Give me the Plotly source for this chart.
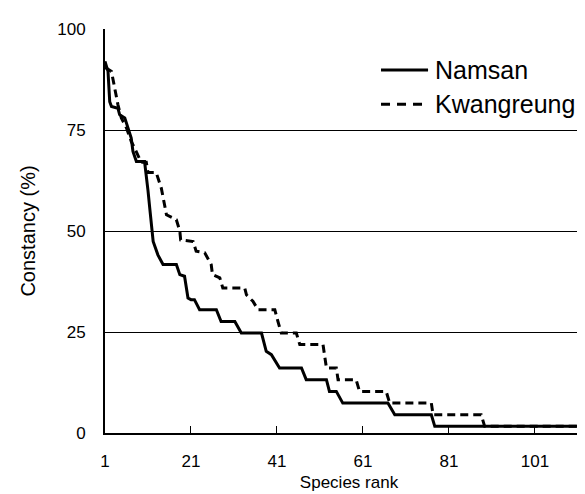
import plotly.graph_objects as go

# Namsan (solid) - species rank vs constancy (%)
namsan_rank = [1, 1.7, 2.1, 2.5, 4, 4.4, 5.6, 6.3, 7.1, 7.5, 8.3, 10.2, 10.6, 11, 11.4, 12.2, 13.3,
               14.5, 17.6, 18.4, 19.5, 20.3, 21, 21.8, 23, 26.9, 28, 31.2, 32.7, 37.4, 38.5, 39.7,
               41.6, 46.7, 47.8, 52.5, 53.2, 54.8, 56.3, 66.8, 68.4, 76.9, 77.7, 116]
namsan_const = [92, 89.5, 82, 80.8, 80.4, 78.8, 78, 75.5, 73, 69.7, 67.2, 67.2, 64, 60, 55.7, 47.4, 44.1,
                41.7, 41.7, 39.2, 38.8, 33.4, 33, 33, 30.5, 30.5, 27.6, 27.6, 24.75, 24.75, 20.2, 19.4,
                16.1, 16.1, 13.2, 13.2, 10.3, 10.3, 7.4, 7.4, 4.5, 4.5, 1.65, 1.65]

# Kwangreung (dashed)
kwang_rank = [1, 2.5, 4, 4.8, 6, 7.1, 7.9, 9.4, 10.6, 11, 12.9, 14.1, 15.3, 17.6, 18.4, 18.6, 21.5,
              22.2, 24.2, 25.7, 26, 26.9, 27.7, 28.4, 33.5, 33.9, 35.4, 36.6, 40.5, 41.2, 42, 45.5,
              46.3, 51.7, 52.5, 54.8, 55.2, 59.4, 60.2, 66.4, 67.2, 76.9, 77.3, 88.5, 89.3, 116]
kwang_const = [90.5, 89.5, 81.3, 78, 75.5, 72.2, 70.5, 67, 67, 64.5, 64.5, 60.6, 54, 52.8, 50, 47.8, 47.4,
               45, 44.6, 41.7, 39.2, 38.8, 38.4, 35.9, 35.9, 34.2, 32.6, 30.5, 30.5, 27.7, 24.75, 24.75,
               21.9, 21.9, 16.1, 16.1, 13.2, 13.2, 10.3, 10.3, 7.4, 7.4, 4.5, 4.5, 1.65, 1.65]

x_ticks = [1, 21, 41, 61, 81, 101]
y_ticks = [0, 25, 50, 75, 100]
series_names = ["Namsan", "Kwangreung"]

FONT = "Liberation Sans, Arial, Helvetica, sans-serif"

fig = go.Figure()
fig.add_trace(go.Scatter(x=namsan_rank, y=namsan_const, mode="lines", name=series_names[0],
                         line=dict(color="black", width=3), showlegend=False))
fig.add_trace(go.Scatter(x=kwang_rank, y=kwang_const, mode="lines", name=series_names[1],
                         line=dict(color="black", width=3, dash="8px,5px"), showlegend=False))

# manual legend
legend_y = [0.8985, 0.814]
dashes = ["solid", "9px,7px"]
for name, ly, d in zip(series_names, legend_y, dashes):
    fig.add_shape(type="line", xref="paper", yref="paper", x0=0.5656, x1=0.662, y0=ly, y1=ly,
                  line=dict(color="black", width=3, dash=d))
    fig.add_annotation(xref="paper", yref="paper", x=0.672, y=ly, text=name, showarrow=False,
                       xanchor="left", yanchor="middle", font=dict(size=25, color="black", family=FONT))

fig.update_layout(
    width=585, height=494,
    margin=dict(l=97, r=0, t=21, b=69),
    paper_bgcolor="white", plot_bgcolor="white",
    font=dict(family=FONT, color="black"),
)
fig.update_xaxes(
    range=[1, 114.5], tickvals=x_ticks, ticktext=[str(v) for v in x_ticks],
    showgrid=False, zeroline=False, showline=True, linecolor="black", linewidth=2,
    ticks="inside", ticklen=7, tickwidth=1, tickcolor="black",
    tickfont=dict(size=17), ticklabelstandoff=12,
    title=dict(text="Species rank", font=dict(size=17), standoff=6),
)
fig.update_yaxes(
    range=[0, 100], tickvals=y_ticks, ticktext=[str(v) for v in y_ticks],
    showgrid=True, gridcolor="black", gridwidth=1, zeroline=False,
    showline=True, linecolor="black", linewidth=2,
    ticks="", tickfont=dict(size=17), ticklabelstandoff=14,
    title=dict(text="Constancy (%)", font=dict(size=20), standoff=16),
)

fig.write_html("out.html")
